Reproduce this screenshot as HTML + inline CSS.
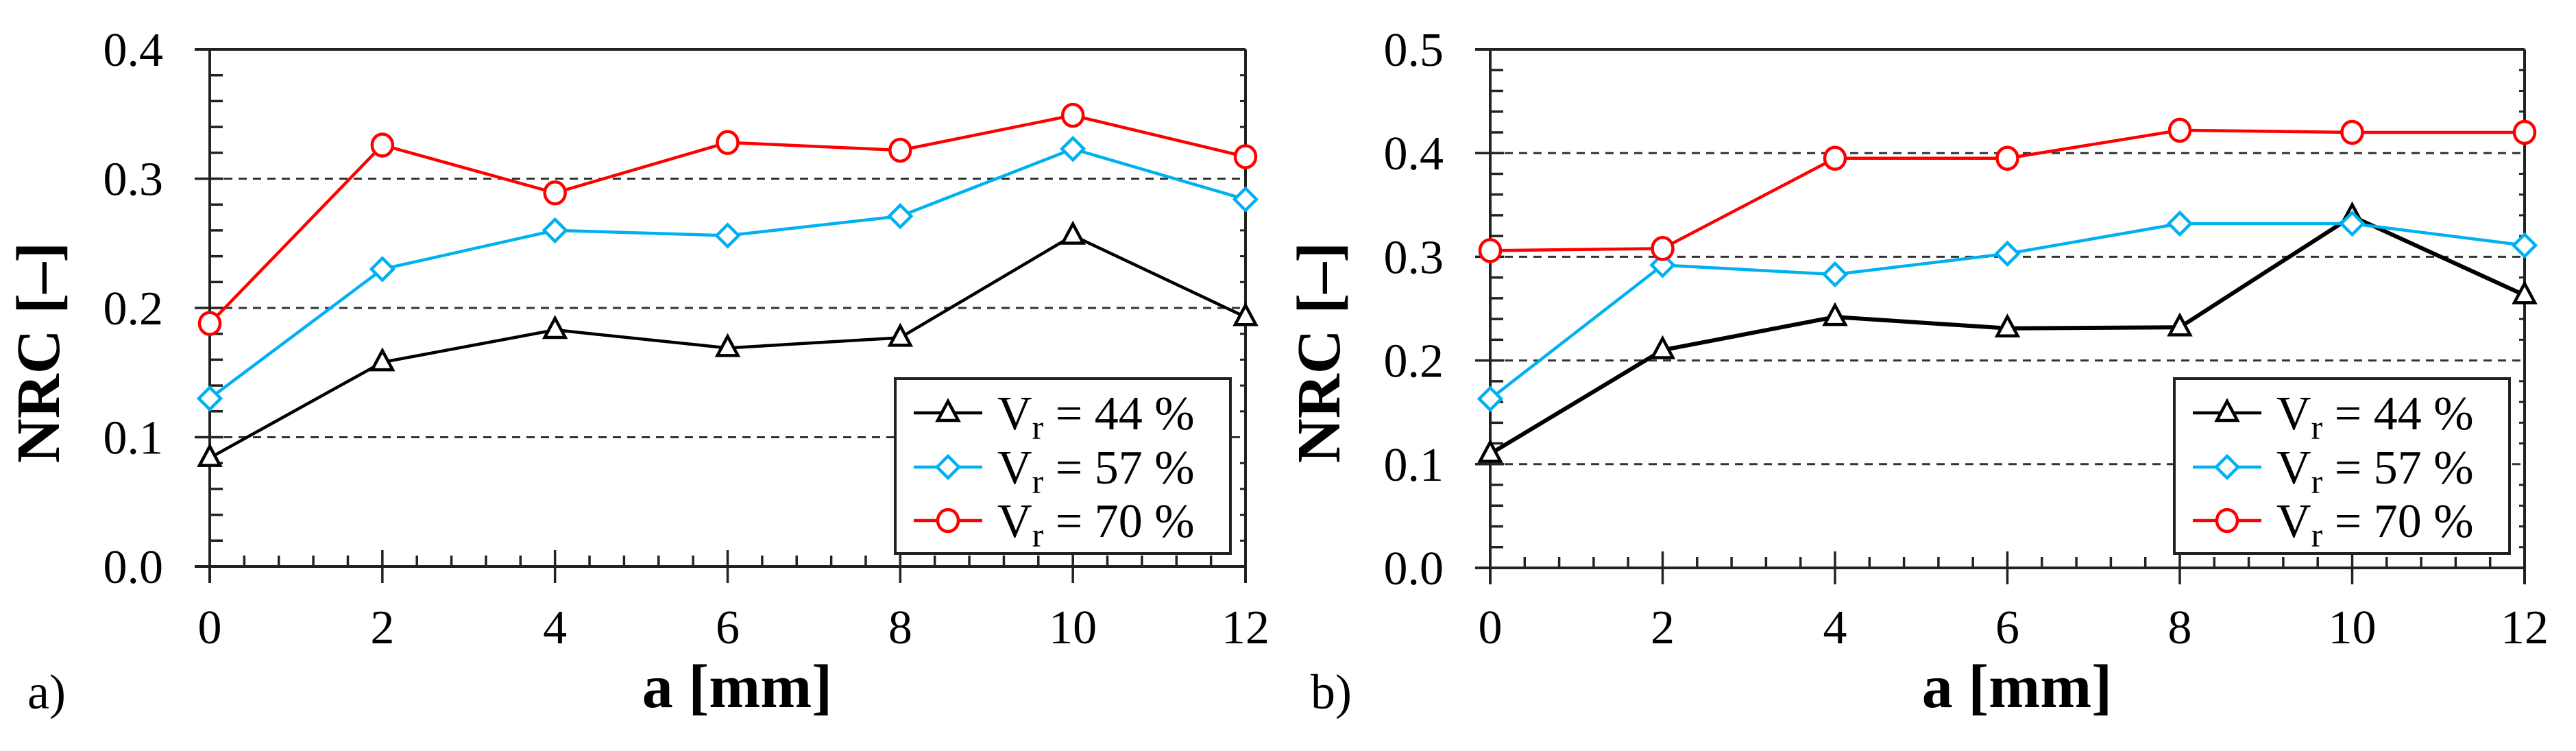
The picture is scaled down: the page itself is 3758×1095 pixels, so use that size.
<!DOCTYPE html>
<html><head><meta charset="utf-8"><style>
html,body{margin:0;padding:0;background:#fff;}
svg{display:block;font-family:"Liberation Serif","Times New Roman","DejaVu Serif",serif;}
svg text{font-family:"Liberation Serif","Times New Roman","DejaVu Serif",serif;fill:#000;}
</style></head><body>
<svg id="fig" width="3758" height="1095" viewBox="0 0 3758 1095" xmlns="http://www.w3.org/2000/svg" font-family="Liberation Serif, serif"></svg>
<script>
const xCategories = [0, 2, 4, 6, 8, 10, 12];
const xTickLabels = ["0","2","4","6","8","10","12"];
const seriesNames = ["44", "57", "70"];
const aVr44 = [0.084, 0.158, 0.183, 0.169, 0.177, 0.256, 0.193];
const aVr57 = [0.130, 0.230, 0.260, 0.256, 0.271, 0.323, 0.284];
const aVr70 = [0.188, 0.326, 0.289, 0.328, 0.322, 0.349, 0.317];
const bVr44 = [0.110, 0.210, 0.242, 0.231, 0.232, 0.339, 0.263];
const bVr57 = [0.163, 0.292, 0.283, 0.303, 0.332, 0.332, 0.311];
const bVr70 = [0.306, 0.308, 0.395, 0.395, 0.422, 0.420, 0.420];
const aYTicks = ["0.0","0.1","0.2","0.3","0.4"];
const bYTicks = ["0.0","0.1","0.2","0.3","0.4","0.5"];

const NS = "http://www.w3.org/2000/svg";
const svg = document.getElementById('fig');
const FONT = "'Liberation Serif', 'Times New Roman', 'DejaVu Serif', serif";
function el(tag, attrs, parent, txt){
  const e = document.createElementNS(NS, tag);
  for (const k in attrs) e.setAttribute(k, attrs[k]);
  if (tag === 'text') e.setAttribute('font-family', FONT);
  if (txt !== undefined) e.textContent = txt;
  (parent || svg).appendChild(e);
  return e;
}
const colors = ["#000000", "#00b0f0", "#ff0000"];
const markers = ["triangle", "diamond", "circle"];

function marker(g, type, cx, cy, color){
  let m;
  if (type === "triangle") {
    m = el('polygon', {points:`${cx},${cy-17} ${cx-15},${cy+11} ${cx+15},${cy+11}`, fill:'#fff', stroke:color, 'stroke-width':4.5}, g);
  } else if (type === "diamond") {
    m = el('polygon', {points:`${cx},${cy-16} ${cx+16},${cy} ${cx},${cy+16} ${cx-16},${cy}`, fill:'#fff', stroke:color, 'stroke-width':4.5}, g);
  } else {
    m = el('ellipse', {cx:cx, cy:cy, rx:15, ry:16, fill:'#fff', stroke:color, 'stroke-width':4.5}, g);
  }
  return m;
}

function panel(id, x0, x1, yTop, yBot, yMax, yTicks, series, legX, label, labelX){
  const g = el('g', {});
  
  
  const xs = v => x0 + (v - 0) / 12 * (x1 - x0);
  const ys = v => yBot - v / yMax * (yBot - yTop);
  yTicks.forEach((t, i) => {
    const v = parseFloat(t);
    if (v > 0 && v < yMax - 1e-9) {
      const gl = el('line', {x1:x0, x2:x1, y1:ys(v), y2:ys(v), stroke:'#333', 'stroke-width':3, 'stroke-dasharray':'12 9'}, g);
      
      
    }
  });
  for (let k = 0; k <= Math.round(yMax / 0.02); k++) {
    const v = k * 0.02, y = ys(v);
    if (k % 5 === 0) {
      el('line', {x1:x0-22, x2:x0+20, y1:y, y2:y, stroke:'#222', 'stroke-width':3.5}, g);
    } else {
      el('line', {x1:x0, x2:x0+19, y1:y, y2:y, stroke:'#222', 'stroke-width':3.5}, g);
      el('line', {x1:x1, x2:x1-8, y1:y, y2:y, stroke:'#222', 'stroke-width':3}, g);
    }
  }
  for (let k = 0; k <= 30; k++) {
    const v = k * 0.4, x = xs(v);
    if (k % 5 === 0) el('line', {x1:x, x2:x, y1:yBot-24, y2:yBot+24, stroke:'#222', 'stroke-width':3.5}, g);
    else el('line', {x1:x, x2:x, y1:yBot, y2:yBot-16, stroke:'#222', 'stroke-width':3.5}, g);
  }
  el('line', {x1:x0-22, x2:x1, y1:yTop, y2:yTop, stroke:'#222', 'stroke-width':4}, g);
  el('line', {x1:x1, x2:x1, y1:yTop, y2:yBot+24, stroke:'#222', 'stroke-width':4}, g);
  const xa = el('line', {x1:x0-22, x2:x1, y1:yBot, y2:yBot, stroke:'#222', 'stroke-width':4}, g);
  
  
  const ya = el('line', {x1:x0, x2:x0, y1:yTop, y2:yBot+24, stroke:'#222', 'stroke-width':4}, g);
  
  
  yTicks.forEach(t => {
    const tl = el('text', {x:x0-68, y:ys(parseFloat(t))+24, 'font-size':70, 'text-anchor':'end'}, g, t);
    
    
  });
  xCategories.forEach((c, i) => {
    const tl = el('text', {x:xs(c), y:938, 'font-size':70, 'text-anchor':'middle'}, g, xTickLabels[i]);
    
    
  });
  series.forEach((vals, s) => {
    const sg = el('g', {}, g);
    
    
    const pts = vals.map((v, i) => xs(xCategories[i]) + ',' + ys(v)).join(' ');
    el('polyline', {points:pts, fill:'none', stroke:colors[s], 'stroke-width':(id==='b'&&s===0)?6:4.5, 'stroke-linejoin':'round'}, sg);
    vals.forEach((v, i) => {
      const m = marker(sg, markers[s], xs(xCategories[i]), ys(v), colors[s]);
      
      
    });
  });
  const lg = el('g', {}, g);
  
  
  el('rect', {x:legX, y:552, width:489, height:255, fill:'#fff', stroke:'#222', 'stroke-width':4}, lg);
  const rowY = [602, 681, 759];
  seriesNames.forEach((n, s) => {
    const eg = el('g', {}, lg);
    
    
    el('line', {x1:legX+27, x2:legX+127, y1:rowY[s], y2:rowY[s], stroke:colors[s], 'stroke-width':4.5}, eg);
    marker(eg, markers[s], legX+77, rowY[s], colors[s]);
    const t = el('text', {x:legX+149, y:rowY[s]+24, 'font-size':70}, eg);
    t.appendChild(document.createTextNode('V'));
    const sub = document.createElementNS(NS, 'tspan');
    sub.setAttribute('font-size', '50'); sub.setAttribute('dy', '14');
    sub.textContent = 'r'; t.appendChild(sub);
    const rest = document.createElementNS(NS, 'tspan');
    rest.setAttribute('dy', '-14');
    rest.textContent = ' = ' + n + ' %'; t.appendChild(rest);
  });
  const yt = el('text', {x:0, y:0, 'font-size':90, 'font-weight':'bold', 'text-anchor':'middle', transform:`translate(${x0-220},514) rotate(-90)`}, g, 'NRC [–]');
  
  
  const xt = el('text', {x:(x0+x1)/2+14, y:1031, 'font-size':90, 'font-weight':'bold', 'text-anchor':'middle'}, g, 'a [mm]');
  
  
  const pl = el('text', {x:labelX, y:1033, 'font-size':72}, g, label);
  
  
}

panel('a', 306, 1817, 72, 826, 0.4, aYTicks, [aVr44, aVr57, aVr70], 1306, 'a)', 40);
panel('b', 2174, 3683, 72, 828, 0.5, bYTicks, [bVr44, bVr57, bVr70], 3172, 'b)', 1912);
</script>
</body></html>
